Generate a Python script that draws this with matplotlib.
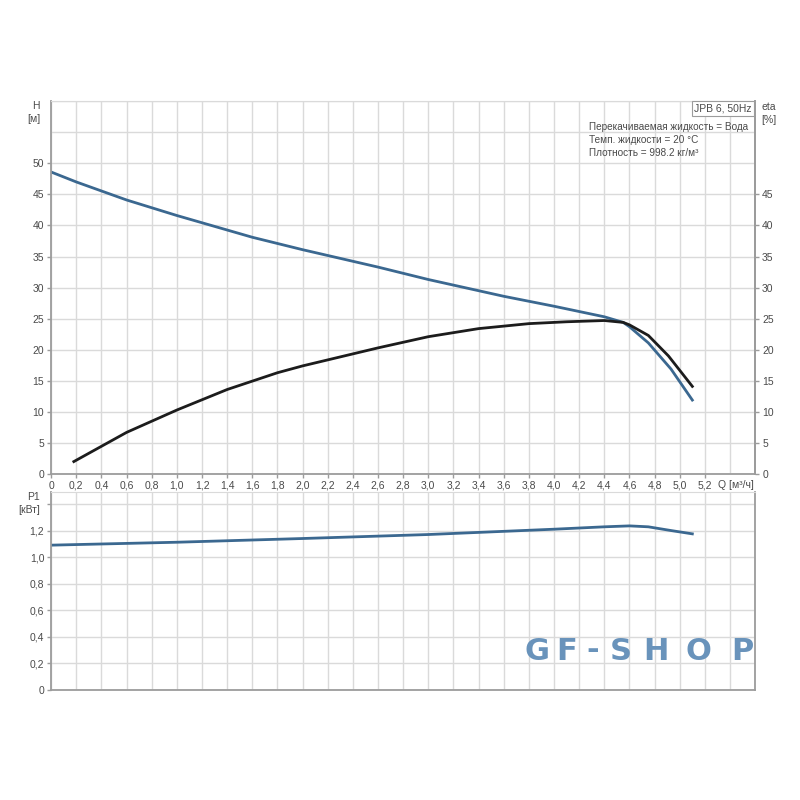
import numpy as np
import matplotlib
matplotlib.use('Agg')
import matplotlib.pyplot as plt

plt.rcParams['font.family'] = ['Liberation Sans', 'DejaVu Sans']

# напор H [м]
q_head = [0, 0.2, 0.6, 1.0, 1.6, 2.0, 2.6, 3.0, 3.6, 4.0, 4.4, 4.55, 4.6, 4.75, 4.93, 5.1]
head = [48.6, 47.0, 44.1, 41.6, 38.1, 36.1, 33.3, 31.3, 28.6, 27.0, 25.3, 24.4, 23.7, 21.1, 16.9, 11.9]

# КПД eta [%]
q_eta = [0.18, 0.6, 1.0, 1.4, 1.8, 2.0, 2.6, 3.0, 3.4, 3.8, 4.1, 4.4, 4.55, 4.6, 4.75, 4.91, 5.1]
eta = [2.0, 6.7, 10.3, 13.6, 16.3, 17.4, 20.3, 22.1, 23.4, 24.2, 24.5, 24.7, 24.4, 24.0, 22.3, 19.0, 14.1]

# мощность P1 [кВт]
q_power = [0, 1.0, 2.0, 3.0, 4.0, 4.4, 4.6, 4.75, 4.93, 5.1]
power = [1.09, 1.112, 1.14, 1.17, 1.21, 1.228, 1.235, 1.228, 1.20, 1.175]

q_ticks = np.arange(0, 5.21, 0.2)
q_labels = ['0', '0,2', '0,4', '0,6', '0,8', '1,0', '1,2', '1,4', '1,6', '1,8',
            '2,0', '2,2', '2,4', '2,6', '2,8', '3,0', '3,2', '3,4', '3,6', '3,8',
            '4,0', '4,2', '4,4', '4,6', '4,8', '5,0', '5,2']
h_ticks = [0, 5, 10, 15, 20, 25, 30, 35, 40, 45, 50]
eta_ticks = [0, 5, 10, 15, 20, 25, 30, 35, 40, 45]
p_ticks = [0, 0.2, 0.4, 0.6, 0.8, 1.0, 1.2, 1.4]
p_labels = ['0', '0,2', '0,4', '0,6', '0,8', '1,0', '1,2', '']

blue = '#3b6890'
black = '#1c1c1c'
grid_c = '#dadada'
spine_c = '#9c9c9c'
text_c = '#4a4a4a'
fs = 7.5


def style_axes(ax):
    ax.set_xlim(0, 5.6)
    ax.set_xticks(np.arange(0, 5.61, 0.2), minor=True)
    ax.grid(True, which='both', color=grid_c, lw=1.0)
    ax.set_axisbelow(True)
    for side in ['left', 'bottom', 'right']:
        ax.spines[side].set_color(spine_c)
        ax.spines[side].set_linewidth(1.3)
    ax.spines['top'].set_color(grid_c)
    ax.tick_params(colors=spine_c, labelcolor=text_c, labelsize=fs, length=3, width=1, pad=2)
    ax.tick_params(which='minor', length=0)


fig = plt.figure(figsize=(8, 8), dpi=100)

ax = fig.add_axes([0.064, 0.4075, 0.88, 0.466])
style_axes(ax)
ax.set_ylim(0, 60)
ax.set_yticks(np.arange(0, 60.1, 5), minor=True)
ax.set_yticks(h_ticks)
ax.set_xticks(q_ticks)
ax.set_xticklabels(q_labels)
ax.plot(q_head, head, color=blue, lw=2)
ax.plot(q_eta, eta, color=black, lw=2)

ax2 = ax.twinx()
ax2.set_ylim(0, 60)
ax2.set_yticks(eta_ticks)
for side in ['left', 'bottom', 'top']:
    ax2.spines[side].set_visible(False)
ax2.spines['right'].set_color(spine_c)
ax2.spines['right'].set_linewidth(1.3)
ax2.tick_params(colors=spine_c, labelcolor=text_c, labelsize=fs, length=3, width=1, pad=2)

fig.text(0.05, 0.859, 'H\n[м]', ha='right', va='center', fontsize=fs, color=text_c,
         linespacing=1.4)
fig.text(0.952, 0.858, 'eta\n[%]', ha='left', va='center', fontsize=fs, color=text_c,
         linespacing=1.4)
fig.text(0.897, 1 - 485 / 800, 'Q [м³/ч]', ha='left', va='center', fontsize=fs, color=text_c)

ax.text(0.995, 0.993, 'JPB 6, 50Hz', transform=ax.transAxes, ha='right', va='top',
        fontsize=fs, color=text_c,
        bbox=dict(boxstyle='square,pad=0.25', fc='white', ec=spine_c, lw=0.8))
ax.text(0.764, 0.944, 'Перекачиваемая жидкость = Вода\nТемп. жидкости = 20 °C\nПлотность = 998.2 кг/м³',
        transform=ax.transAxes, ha='left', va='top', fontsize=fs - 0.3, color=text_c,
        linespacing=1.35)

bx = fig.add_axes([0.064, 0.1375, 0.88, 0.2475])
style_axes(bx)
bx.set_ylim(0, 1.49)
bx.set_yticks(p_ticks)
bx.set_yticklabels(p_labels)
bx.set_xticks([])
bx.set_xticks(np.arange(0, 5.61, 0.2), minor=True)
bx.plot(q_power, power, color=blue, lw=2)

fig.text(0.05, 0.371, 'P1\n[кВт]', ha='right', va='center', fontsize=fs, color=text_c,
         linespacing=1.4)

# водяной знак
wm_x = [537, 567, 593, 621, 656, 698, 742]
for ch, x in zip('GF-SHOP', wm_x):
    fig.text(x / 800, 1 - 651 / 800, ch, ha='center', va='center', fontsize=22,
             fontweight='heavy', color='#6993bb', family='DejaVu Sans')

fig.savefig('out.png', dpi=100)
